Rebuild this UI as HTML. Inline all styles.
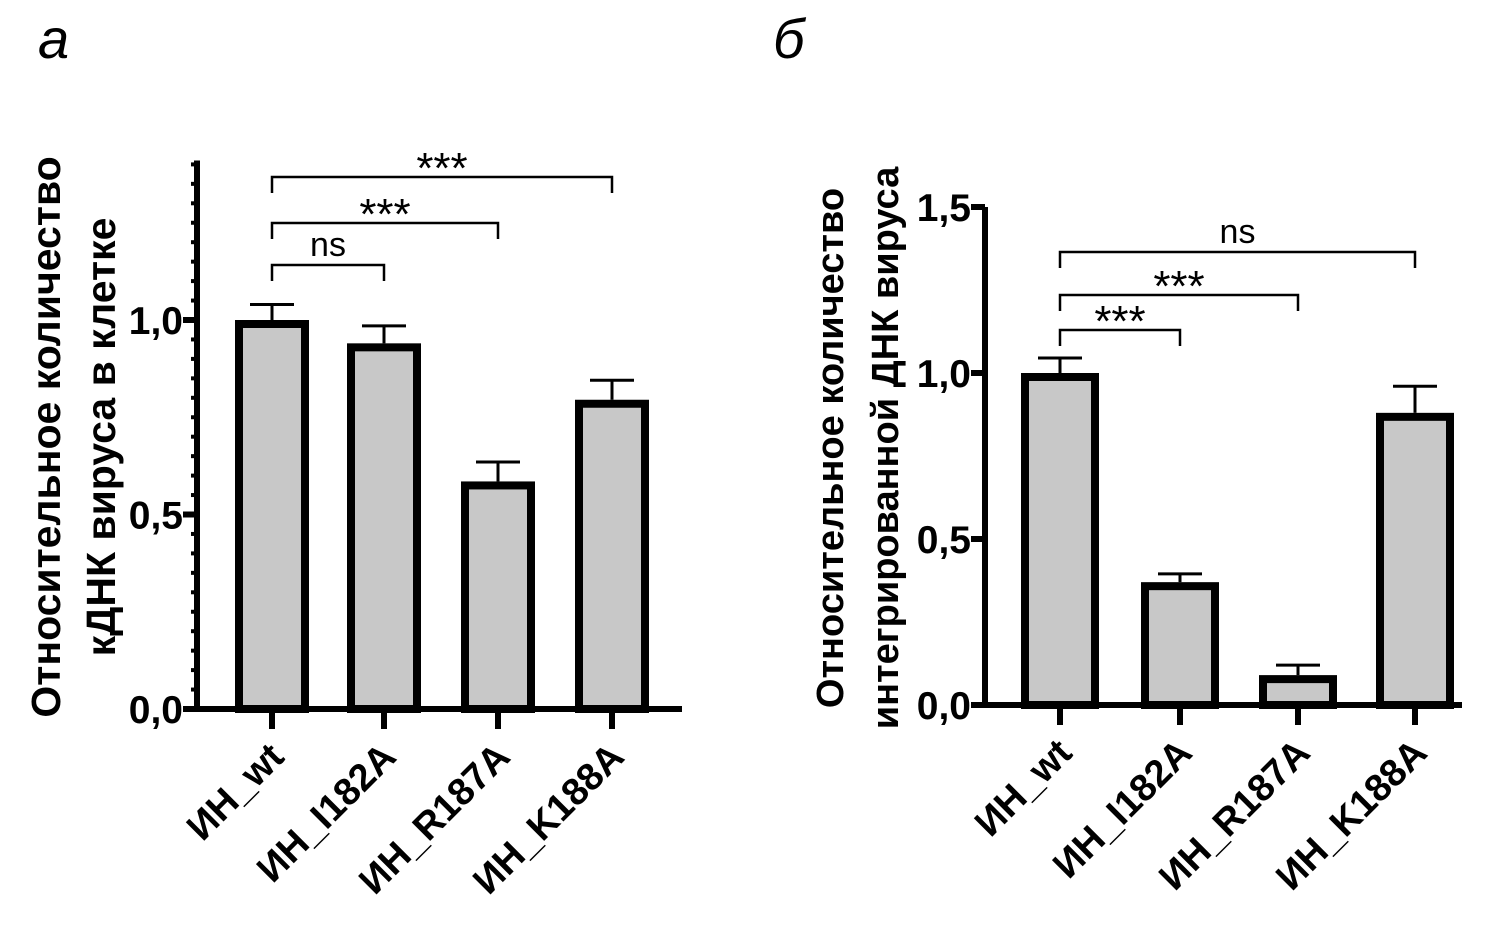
<!DOCTYPE html>
<html><head><meta charset="utf-8"><style>
html,body{margin:0;padding:0;background:#fff}
svg{display:block}
text{font-family:"Liberation Sans",Arial,sans-serif}
</style></head><body>
<svg id="fig" width="1507" height="933" viewBox="0 0 1507 933" xmlns="http://www.w3.org/2000/svg">
<text x="38" y="58" font-size="56" font-style="italic">а</text>
<text x="773" y="58" font-size="56" font-style="italic">б</text>
<g id="chartA"></g>
<g id="chartB"></g>
</svg>
<script>
const categories = ["ИН_wt","ИН_I182A","ИН_R187A","ИН_K188A"];
const valuesA = [1.0, 0.94, 0.585, 0.795];
const errorsA = [0.04, 0.045, 0.05, 0.05];
const valuesB = [1.0, 0.37, 0.09, 0.88];
const errorsB = [0.045, 0.025, 0.03, 0.08];
const ticksA = [0, 0.5, 1.0];
const tickLabelsA = ["0,0","0,5","1,0"];
const ticksB = [0, 0.5, 1.0, 1.5];
const tickLabelsB = ["0,0","0,5","1,0","1,5"];
const sigA = [[0,1,"ns"],[0,2,"***"],[0,3,"***"]];
const sigB = [[0,1,"***"],[0,2,"***"],[0,3,"ns"]];

const NS="http://www.w3.org/2000/svg";
function mk(parent, tag, attrs, text){
  const e=document.createElementNS(NS,tag);
  for(const k in attrs) e.setAttribute(k,attrs[k]);
  if(text!==undefined) e.textContent=text;
  parent.appendChild(e); return e;
}
function draw(g, cfg){
  const y = v => cfg.y0 - v*cfg.scale;
  const x = i => cfg.xs[i];
  const ya=mk(g,'line',{x1:cfg.ax,x2:cfg.ax,y1:y(cfg.ymax),y2:cfg.y0+3,stroke:'#000','stroke-width':6});
  
  
  const xa=mk(g,'line',{x1:cfg.ax-3,x2:cfg.axEnd,y1:cfg.y0,y2:cfg.y0,stroke:'#000','stroke-width':6});
  
  
  if(cfg.minor){
    for(let v=0; v<=cfg.ymax+1e-9; v+=0.05){
      const t=mk(g,'line',{x1:cfg.ax-6,x2:cfg.ax,y1:y(v),y2:y(v),stroke:'#000','stroke-width':4});
      
      
    }
  }
  cfg.ticks.forEach((v,i)=>{
    const t=mk(g,'line',{x1:cfg.ax-14,x2:cfg.ax,y1:y(v),y2:y(v),stroke:'#000','stroke-width':6});
    
    
    const l=mk(g,'text',{x:cfg.ax-14,y:y(v)+14,'text-anchor':'end','font-size':39,'font-weight':'bold'},cfg.tickLabels[i]);
    
    
  });
  categories.forEach((c,i)=>{
    const v=cfg.values[i], e=cfg.errors[i], cx=x(i), w=cfg.bw;
    const el=mk(g,'line',{x1:cx,x2:cx,y1:y(v),y2:y(v+e),stroke:'#000','stroke-width':3});
    
    
    const ec=mk(g,'line',{x1:cx-22,x2:cx+22,y1:y(v+e),y2:y(v+e),stroke:'#000','stroke-width':3});
    
    
    const b=mk(g,'rect',{x:cx-w/2+4,y:y(v)+4,width:w-8,height:cfg.y0-y(v)-4,fill:'#c8c8c8',stroke:'#000','stroke-width':8});
    
    
    const t=mk(g,'line',{x1:cx,x2:cx,y1:cfg.y0,y2:cfg.y0+20,stroke:'#000','stroke-width':6});
    
    
    const lx=cx+14, ly=cfg.y0+50;
    const l=mk(g,'text',{x:lx,y:ly,'text-anchor':'end','font-size':38,'font-weight':'bold',transform:`rotate(-45 ${lx} ${ly})`},c);
    
    
  });
  cfg.sig.forEach((s,k)=>{
    const by=cfg.sigY[k], x1=x(s[0]), x2=x(s[1]);
    const p=mk(g,'path',{d:`M${x1},${by+16} V${by} H${x2} V${by+16}`,fill:'none',stroke:'#000','stroke-width':2.5});
    
    
    const isStar=s[2]==='***';
    const t=mk(g,'text',{x:(x1+x2)/2,y:isStar?by+6:by-9,'text-anchor':'middle','font-size':isStar?44:34},s[2]);
    
    
  });
  cfg.title.forEach((ln,i)=>{
    const tx=cfg.titleX[i], ty=cfg.titleY;
    const t=mk(g,'text',{x:tx,y:ty,'text-anchor':'middle','font-size':cfg.titleSize,'font-weight':'bold',transform:`rotate(-90 ${tx} ${ty})`},ln);
    
    
  });
}
draw(document.getElementById('chartA'),{
  ax:197, axEnd:682, y0:709, scale:389, ymax:1.41, minor:true,
  xs:[272,384,498,612], bw:74, values:valuesA, errors:errorsA,
  ticks:ticksA, tickLabelsA:null, tickLabels:tickLabelsA, sig:sigA, sigY:[265,223,177],
  title:["Относительное количество","кДНК вируса в клетке"], titleX:[60,115], titleY:437, titleSize:41
});
draw(document.getElementById('chartB'),{
  ax:985, axEnd:1462, y0:705, scale:332, ymax:1.5, minor:false,
  xs:[1060,1180,1298,1415], bw:78, values:valuesB, errors:errorsB,
  ticks:ticksB, tickLabels:tickLabelsB, sig:sigB, sigY:[330,295,252],
  title:["Относительное количество","интегрированной ДНК вируса"], titleX:[843,898], titleY:448, titleSize:38
});
</script>
</body></html>
